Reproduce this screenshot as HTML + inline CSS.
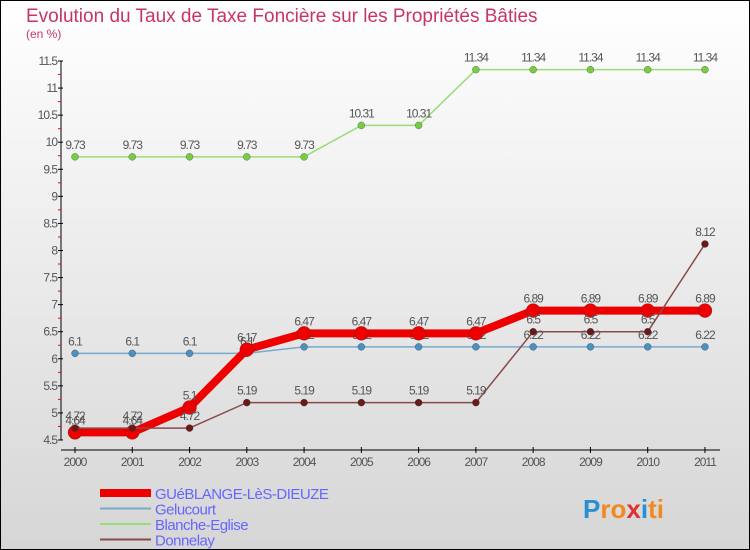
<!DOCTYPE html>
<html><head><meta charset="utf-8"><style>
body{margin:0;width:750px;height:550px;overflow:hidden;font-family:"Liberation Sans",sans-serif}
#c{position:absolute;left:0;top:0;width:748px;height:548px;border:1px solid #000;background:linear-gradient(#fff,#d6d6d6)}
</style></head><body>
<div id="c">
<svg id="s" width="750" height="550" style="position:absolute;left:-1px;top:-1px"></svg>
</div>
<script>
const years=["2000","2001","2002","2003","2004","2005","2006","2007","2008","2009","2010","2011"];
const yTicks=[4.5,5,5.5,6,6.5,7,7.5,8,8.5,9,9.5,10,10.5,11,11.5];
const gueblange=[4.64,4.64,5.1,6.17,6.47,6.47,6.47,6.47,6.89,6.89,6.89,6.89];
const gelucourt=[6.1,6.1,6.1,6.1,6.22,6.22,6.22,6.22,6.22,6.22,6.22,6.22];
const blanche=[9.73,9.73,9.73,9.73,9.73,10.31,10.31,11.34,11.34,11.34,11.34,11.34];
const donnelay=[4.72,4.72,4.72,5.19,5.19,5.19,5.19,5.19,6.5,6.5,6.5,8.12];
const names=["GUéBLANGE-LèS-DIEUZE","Gelucourt","Blanche-Eglise","Donnelay"];
const NS="http://www.w3.org/2000/svg",s=document.getElementById('s');
const X=i=>75+i*57.27, Y=v=>61+(11.5-v)*54.14;
function el(t,a,p){const e=document.createElementNS(NS,t);for(const k in a)e.setAttribute(k,a[k]);(p||s).appendChild(e);return e}
function txt(x,y,str,a,p){const e=el('text',Object.assign({x:x,y:y,'font-size':12,fill:'#555'},a||{}),p);e.textContent=str;return e}
let t=txt(26,22,"Evolution du Taux de Taxe Foncière sur les Propriétés Bâties",{'font-size':19,fill:'#c8336a'});

t=txt(26,38,"(en %)",{'font-size':12,fill:'#c8336a'});

let a=el('line',{x1:61,y1:61,x2:61,y2:440,stroke:'#000'});

yTicks.forEach((v,i)=>{el('line',{x1:58,x2:63,y1:Y(v),y2:Y(v),stroke:'#000'});
 if(i<yTicks.length-1)el('line',{x1:58,x2:61,y1:Y(v+0.25),y2:Y(v+0.25),stroke:'red'});
 const l=txt(57,Y(v)+4,String(v),{'text-anchor':'end','letter-spacing':'-1'});
 });
a=el('line',{x1:61,y1:450,x2:720,y2:450,stroke:'#000'});

years.forEach((y,i)=>{el('line',{x1:X(i),x2:X(i),y1:447,y2:453,stroke:'#000'});
 const l=txt(X(i),466,y,{'text-anchor':'middle','letter-spacing':'-1'});
 });
function series(d,col,w,r,dot,nm){const g=el('g',{});
 
 el('polyline',{points:d.map((v,i)=>X(i)+','+Y(v)).join(' '),fill:'none',stroke:col,'stroke-width':w,'stroke-linejoin':'round'},g);
 d.forEach((v,i)=>{el('circle',{cx:X(i),cy:Y(v),r:r,fill:dot,stroke:'#333','stroke-width':0.3},g);
  txt(X(i),Y(v)-8,String(v),{'text-anchor':'middle','letter-spacing':'-1'},g)});}
series(blanche,'#99dd77',1.5,3.5,'#77cc44','series-blanche-eglise');
series(gelucourt,'#77aacc',1.5,3.5,'#4a90c0','series-gelucourt');
series(gueblange,'#ee0000',8,7,'#ee0000','series-gueblange');
series(donnelay,'#8a4a4a',1.5,3.5,'#6a1a1a','series-donnelay');
const lc=['#ee0000','#77aacc','#99dd77','#8a4a4a'],lw=[8,2,2,2];
names.forEach((n,i)=>{const g=el('g',{});
 
 const y=493+i*15.5;
 el('line',{x1:100,x2:151,y1:y,y2:y,stroke:lc[i],'stroke-width':lw[i]},g);
 txt(155,y+6,n,{'font-size':15,fill:'#6666ff','letter-spacing':'-0.5'},g);});
const lg=el('text',{x:583,y:518,'font-size':26,'font-weight':'bold'});


const lcols=['#2a8fd0','#f08a20','#f08a20','#e03030','#2a8fd0','#f08a20','#f08a20'];
"Proxiti".split('').forEach((ch,i)=>{const sp=el('tspan',{fill:lcols[i]},lg);sp.textContent=ch;});
</script>
</body></html>
